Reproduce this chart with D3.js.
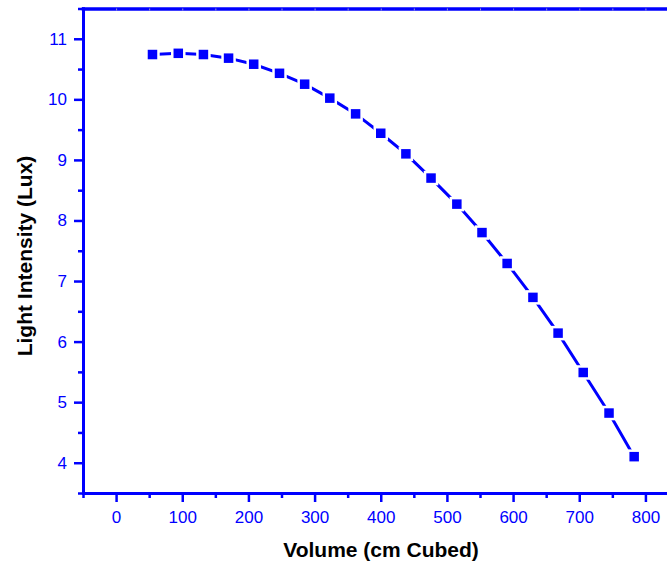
<!DOCTYPE html>
<html>
<head>
<meta charset="utf-8">
<script src="https://cdn.jsdelivr.net/npm/d3@7"></script>
<style>
  body { margin: 0; background: #fff; }
  svg { display: block; }
</style>
</head>
<body>
<svg id="chart"></svg>
<script>
// volume vs light intensity
const volume = [55, 94, 132, 170, 208, 247, 285, 323, 362, 400, 438, 476, 515, 553, 591, 630, 668, 706, 745, 783];
const lux = [10.74, 10.76, 10.74, 10.68, 10.58, 10.43, 10.25, 10.02, 9.76, 9.44, 9.10, 8.70, 8.27, 7.80, 7.29, 6.73, 6.14, 5.49, 4.82, 4.10];
const xTicks = [0, 100, 200, 300, 400, 500, 600, 700, 800];
const xMinor = [-50, 50, 150, 250, 350, 450, 550, 650, 750, 850];
const yTicks = [4, 5, 6, 7, 8, 9, 10, 11];
const yMinor = [3.5, 4.5, 5.5, 6.5, 7.5, 8.5, 9.5, 10.5, 11.5];

const W = 667, H = 564;
const blue = "#0000ff";

const svg = d3.select("#chart")
    .attr("width", W)
    .attr("height", H);

const x = d3.scaleLinear().domain([-50, 850]).range([83, 678.5]);
const y = d3.scaleLinear().domain([3.5, 11.5]).range([493, 8.5]);

function styleAxis(g, width) {
    g.select(".domain").attr("stroke", blue).attr("stroke-width", width).attr("stroke-linecap", "square");
    g.selectAll(".tick line").attr("stroke", blue).attr("stroke-width", 2.5);
    g.selectAll(".tick text").attr("fill", blue).attr("font-family", "Liberation Sans, Arial, sans-serif").attr("font-size", "17px");
}

// top frame line with faint inner ticks
const topAx = svg.append("g")
    .attr("transform", `translate(0,${y(11.5)})`)
    .call(d3.axisBottom(x).tickValues(xTicks.concat(xMinor)).tickSize(2).tickSizeOuter(0).tickFormat(""));
styleAxis(topAx, 3.5);
topAx.selectAll(".tick line").attr("stroke", "#9a9acc").attr("stroke-width", 1);

// bottom axis, minor then major
const xMin = svg.append("g")
    .attr("transform", `translate(0,${y(3.5)})`)
    .call(d3.axisBottom(x).tickValues(xMinor).tickSize(5).tickSizeOuter(0).tickFormat(""));
styleAxis(xMin, 3);
const xAx = svg.append("g")
    .attr("transform", `translate(0,${y(3.5)})`)
    .call(d3.axisBottom(x).tickValues(xTicks).tickSize(9).tickSizeOuter(0).tickPadding(9));
styleAxis(xAx, 3);

// left axis
const yMin = svg.append("g")
    .attr("transform", `translate(${x(-50)},0)`)
    .call(d3.axisLeft(y).tickValues(yMinor).tickSize(5).tickSizeOuter(0).tickFormat(""));
styleAxis(yMin, 3);
const yAx = svg.append("g")
    .attr("transform", `translate(${x(-50)},0)`)
    .call(d3.axisLeft(y).tickValues(yTicks).tickSize(9).tickSizeOuter(0).tickPadding(7));
styleAxis(yAx, 3);

// data line
const pts = volume.map((v, i) => ({v: v, l: lux[i]}));
const line = d3.line().x(d => x(d.v)).y(d => y(d.l));
svg.append("path")
    .attr("d", line(pts))
    .attr("fill", "none")
    .attr("stroke", blue)
    .attr("stroke-width", 3);

// square markers, white halo gives the gap in the line
const ms = 9.5;
svg.selectAll("rect.pt")
    .data(pts)
    .enter()
    .append("rect")
    .attr("class", "pt")
    .attr("x", d => x(d.v) - ms / 2)
    .attr("y", d => y(d.l) - ms / 2)
    .attr("width", ms)
    .attr("height", ms)
    .attr("fill", blue)
    .attr("stroke", "#fff")
    .attr("stroke-width", 5)
    .attr("paint-order", "stroke");

// axis titles
svg.append("text")
    .attr("x", 381)
    .attr("y", 557)
    .attr("text-anchor", "middle")
    .attr("font-family", "Liberation Sans, Arial, sans-serif")
    .attr("font-weight", "bold")
    .attr("font-size", "21px")
    .attr("fill", "#000")
    .text("Volume (cm Cubed)");

svg.append("text")
    .attr("transform", "translate(32,256) rotate(-90)")
    .attr("text-anchor", "middle")
    .attr("font-family", "Liberation Sans, Arial, sans-serif")
    .attr("font-weight", "bold")
    .attr("font-size", "21px")
    .attr("fill", "#000")
    .text("Light Intensity (Lux)");
</script>
</body>
</html>
